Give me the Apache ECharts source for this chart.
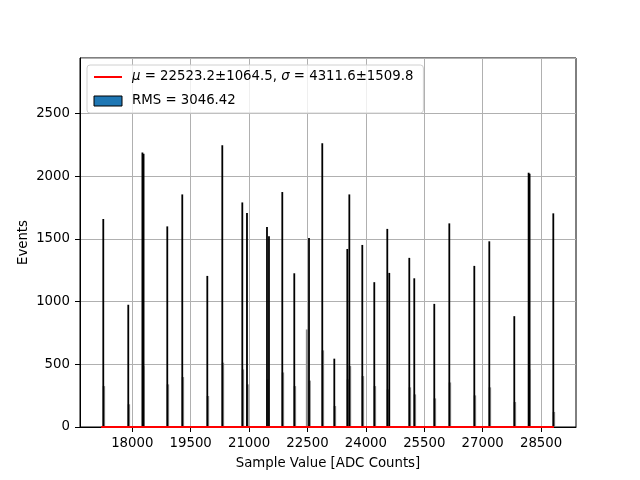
<!DOCTYPE html>
<html>
<head>
<meta charset="utf-8">
<script src="https://cdn.jsdelivr.net/npm/echarts@6/dist/echarts.min.js"></script>
<style>html,body{margin:0;padding:0;background:#fff}#c{width:640px;height:480px}</style>
</head>
<body>
<div id="c"></div>
<script>
// Tall bins (ADC value, events)
const spikeX = [17255, 17897, 18260, 18290, 18899, 19284, 19927, 20312, 20826, 20946, 21460, 21511, 21853, 22161, 22539, 22880, 23189, 23523, 23575, 23908, 24216, 24550, 24601, 25115, 25243, 25757, 26143, 26785, 27170, 27812, 28180, 28205, 28814];
const spikeY = [1659, 975, 2190, 2180, 1600, 1855, 1205, 2248, 1791, 1707, 1595, 1521, 1874, 1226, 1508, 2264, 545, 1420, 1855, 1452, 1155, 1580, 1229, 1349, 1186, 982, 1624, 1285, 1481, 884, 2028, 2020, 1704];
// Neighbouring lower bins
const lowX = [17270, 17912, 18280, 18914, 19299, 19942, 20327, 20841, 20961, 21475, 21868, 22176, 22490, 22554, 22895, 23204, 23538, 23590, 23923, 24231, 24565, 25130, 25258, 25772, 26158, 26800, 27185, 27827, 28195, 28829];
const lowY = [326, 181, 486, 340, 398, 247, 513, 459, 340, 380, 435, 326, 778, 370, 611, 167, 380, 486, 406, 326, 300, 316, 260, 228, 355, 252, 316, 199, 459, 120];
// Gaussian fit curve (flat at this scale)
const fitX = [17200, 28830];
const fitY = [0, 0];
const xTicks = [18000, 19500, 21000, 22500, 24000, 25500, 27000, 28500];
const fitLabel = 'μ = 22523.2±1064.5, σ = 4311.6±1509.8';
const histLabel = 'RMS = 3046.42';
const xTitle = 'Sample Value [ADC Counts]';
const yTitle = 'Events';

const font = 'DejaVu Sans';
function pairs(xs, ys) { return xs.map((x, i) => [x, ys[i]]); }
function spikeRenderer(w) {
  return function (params, api) {
    const top = api.coord([api.value(0), api.value(1)]);
    const base = api.coord([api.value(0), 0]);
    return {
      type: 'rect',
      shape: { x: top[0] - w / 2, y: top[1], width: w, height: base[1] - top[1] },
      style: { fill: api.visual('color') }
    };
  };
}
const plain = v => String(v);

const chart = echarts.init(document.getElementById('c'), null, { renderer: 'canvas' });
chart.setOption({
  animation: false,
  backgroundColor: '#fff',
  textStyle: { fontFamily: font },
  grid: { left: 80, right: 64, top: 58, bottom: 53, show: true, borderColor: '#000', borderWidth: 1, backgroundColor: 'transparent' },
  legend: {
    orient: 'vertical', left: 87, top: 65,
    padding: [4, 10, 4, 6], itemGap: 8, itemWidth: 28, itemHeight: 10, itemTextGap: 5,
    borderColor: '#d0d0d0', borderWidth: 1, borderRadius: 3, backgroundColor: 'rgba(255,255,255,0.8)',
    textStyle: { fontFamily: font, fontSize: 13.3, color: '#000', lineHeight: 16,
      rich: {
        s: { width: 5, fontSize: 13.3 },
        t: { fontFamily: font, fontSize: 13.3, color: '#000' },
        i: { fontStyle: 'italic', fontFamily: font, fontSize: 13.3, color: '#000' }
      } },
    formatter: function (name) {
      if (name === fitLabel) {
        return '{s|}' + name.split(/(μ|σ)/).filter(p => p).map(p => (p === 'μ' || p === 'σ') ? '{i|' + p + '}' : '{t|' + p + '}').join('');
      }
      return '{s|}{t|' + name + '}';
    },
    data: [
      { name: fitLabel, itemStyle: { opacity: 0 }, lineStyle: { color: '#ff0000', width: 2, opacity: 1 } },
      { name: histLabel, icon: 'rect', itemStyle: { color: '#1f77b4', borderColor: '#000', borderWidth: 1 } }
    ]
  },
  xAxis: {
    type: 'value', min: 16657, max: 29397,
    name: xTitle, nameLocation: 'middle', nameGap: 30, nameMoveOverlap: false,
    nameTextStyle: { fontFamily: font, fontSize: 13.3, color: '#000' },
    axisLine: { show: true, lineStyle: { color: '#000', width: 1 } },
    axisTick: { show: true, length: 5, inside: false, lineStyle: { color: '#000' }, customValues: xTicks },
    axisLabel: { fontFamily: font, fontSize: 13.3, color: '#000', margin: 10, customValues: xTicks, formatter: plain },
    splitLine: { show: true, lineStyle: { color: '#b0b0b0', width: 1 } }
  },
  yAxis: {
    type: 'value', min: 0, max: 2943, interval: 500,
    name: yTitle, nameLocation: 'middle', nameGap: 50, nameRotate: 90, nameMoveOverlap: false,
    nameTextStyle: { fontFamily: font, fontSize: 13.3, color: '#000' },
    axisLine: { show: true, lineStyle: { color: '#000', width: 1 } },
    axisTick: { show: true, length: 5, lineStyle: { color: '#000' } },
    axisLabel: { fontFamily: font, fontSize: 13.3, color: '#000', margin: 10, showMaxLabel: false, formatter: plain },
    splitLine: { show: true, lineStyle: { color: '#b0b0b0', width: 1 } }
  },
  series: [
    { type: 'custom', name: 'low', renderItem: spikeRenderer(2.5), data: pairs(lowX, lowY),
      itemStyle: { color: '#8a8a8a' }, encode: { x: 0, y: 1 }, z: 2 },
    { type: 'custom', name: histLabel, renderItem: spikeRenderer(1.8), data: pairs(spikeX, spikeY),
      itemStyle: { color: '#000' }, encode: { x: 0, y: 1 }, z: 3 },
    { type: 'line', name: fitLabel, data: pairs(fitX, fitY), symbol: 'none', showSymbol: false,
      lineStyle: { color: '#ff0000', width: 2 }, itemStyle: { color: '#ff0000' }, z: 10, clip: false }
  ]
});
</script>
</body>
</html>
